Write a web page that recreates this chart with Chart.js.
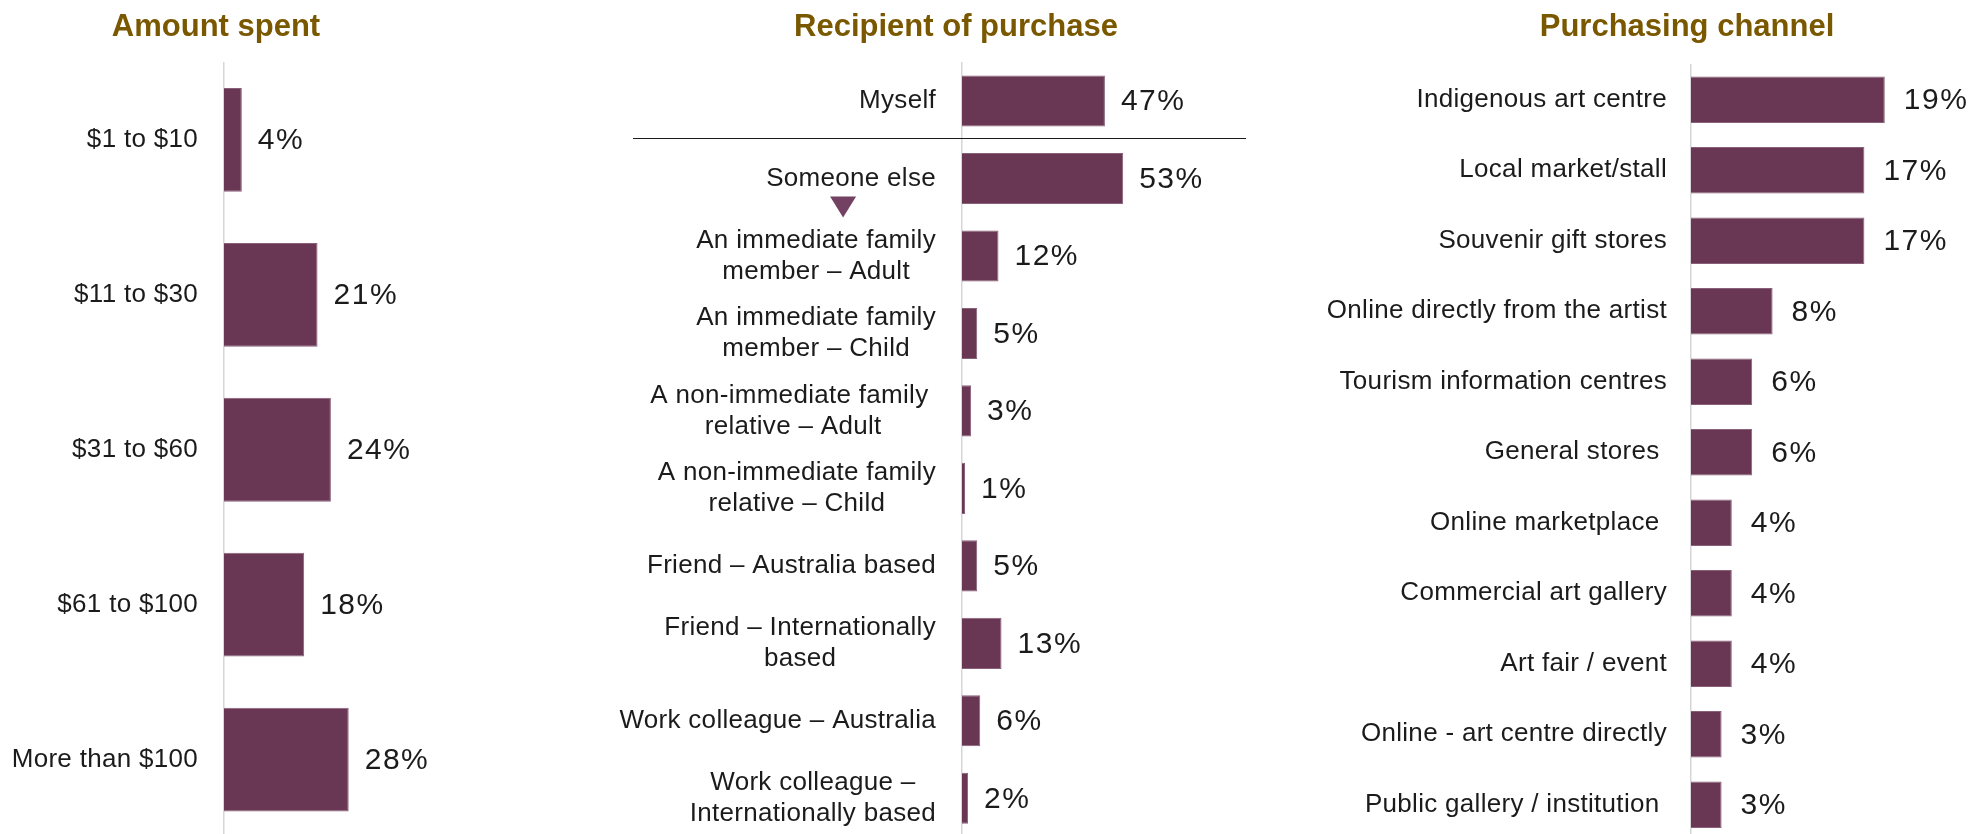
<!DOCTYPE html>
<html>
<head>
<meta charset="utf-8">
<script src="https://cdn.jsdelivr.net/npm/chart.js@4.4.1/dist/chart.umd.min.js"></script>
<style>
  html, body { margin: 0; padding: 0; background: #ffffff; overflow: hidden; width: 1973px; height: 834px; }
  .panel { position: absolute; top: 0; }
  canvas { display: block; }
</style>
</head>
<body>
<div class="panel" style="left:0px"><canvas id="amount" width="440" height="837"></canvas></div>
<div class="panel" style="left:600px"><canvas id="recipient" width="660" height="837"></canvas></div>
<div class="panel" style="left:1290px"><canvas id="channel" width="683" height="840"></canvas></div>
<script>
// ---- Amount spent ----
const amountCategories = ['$1 to $10', '$11 to $30', '$31 to $60', '$61 to $100', 'More than $100'];
const amountValues = [4, 21, 24, 18, 28];

// ---- Recipient of purchase ----
const recipientCategories = [
  'Myself',
  'Someone else',
  ['An immediate family', 'member – Adult'],
  ['An immediate family', 'member – Child'],
  ['A non-immediate family ', 'relative – Adult'],
  ['A non-immediate family', 'relative – Child'],
  'Friend – Australia based',
  ['Friend – Internationally', 'based'],
  'Work colleague – Australia',
  ['Work colleague –', 'Internationally based']
];
const recipientValues = [47, 53, 12, 5, 3, 1, 5, 13, 6, 2];

// ---- Purchasing channel ----
const channelCategories = [
  'Indigenous art centre',
  'Local market/stall',
  'Souvenir gift stores',
  'Online directly from the artist',
  'Tourism information centres',
  'General stores ',
  'Online marketplace ',
  'Commercial art gallery',
  'Art fair / event',
  'Online - art centre directly',
  'Public gallery / institution '
];
const channelValues = [19, 17, 17, 8, 6, 6, 4, 4, 4, 3, 3];

const panelHeadings = ['Amount spent', 'Recipient of purchase', 'Purchasing channel'];

const FONT = "'Liberation Sans', Arial, Helvetica, sans-serif";
const BAR = '#693653';
const BAR_EDGE = '#88607a';
const INK = '#1b1b1b';
const GOLD = '#7a5800';
const AXIS = '#d6d6d6';

// Heading, category labels (right-aligned block, lines centred within it) and value labels
const panelDecor = {
  id: 'panelDecor',
  afterDatasetsDraw(chart, args, opts) {
    const ctx = chart.ctx;
    const yScale = chart.scales.y;
    const axisX = yScale.right;
    ctx.save();

    ctx.font = `bold 31px ${FONT}`;
    ctx.fillStyle = GOLD;
    ctx.textAlign = 'center';
    ctx.textBaseline = 'alphabetic';
    ctx.fillText(opts.heading, axisX + opts.headingShift, 36);

    ctx.font = `26px ${FONT}`;
    ctx.fillStyle = INK;
    ctx.textBaseline = 'middle';
    ctx.letterSpacing = '0.3px';
    chart.data.labels.forEach((lab, i) => {
      const lines = Array.isArray(lab) ? lab : [lab];
      const w = Math.max(...lines.map(l => ctx.measureText(l).width));
      const cx = axisX - opts.labelPad - w / 2;
      const cy = yScale.getPixelForValue(i);
      lines.forEach((line, j) => {
        ctx.fillText(line, cx, cy + (j - (lines.length - 1) / 2) * 31);
      });
    });

    ctx.font = `30px ${FONT}`;
    ctx.letterSpacing = '1.5px';
    ctx.textAlign = 'left';
    const values = chart.data.datasets[0].data;
    chart.getDatasetMeta(0).data.forEach((bar, i) => {
      ctx.fillText(values[i] + '%', bar.x + opts.valueGap, bar.y + 1);
    });
    ctx.restore();

    if (opts.extra) opts.extra(chart, ctx);
  }
};

function buildPanel(id, categories, values, cfg) {
  return new Chart(document.getElementById(id), {
    type: 'bar',
    data: {
      labels: categories,
      datasets: [{
        data: values,
        backgroundColor: BAR,
        borderColor: BAR_EDGE,
        borderWidth: 1,
        borderSkipped: 'start',
        barPercentage: cfg.barPct,
        categoryPercentage: 1
      }]
    },
    options: {
      indexAxis: 'y',
      responsive: false,
      animation: false,
      devicePixelRatio: 1,
      layout: { padding: { top: cfg.top, bottom: 0, left: 0, right: 0 } },
      scales: {
        x: { display: false, min: 0, max: cfg.xMax },
        y: {
          afterFit(scale) { scale.width = cfg.axisWidth; },
          grid: { display: false },
          ticks: { display: false },
          border: { display: true, color: AXIS, width: 1.5 }
        }
      },
      plugins: {
        legend: { display: false },
        tooltip: { enabled: false },
        panelDecor: {
          heading: cfg.heading,
          headingShift: cfg.headingShift,
          labelPad: cfg.labelPad,
          valueGap: cfg.valueGap,
          extra: cfg.extra
        }
      }
    },
    plugins: [panelDecor]
  });
}

buildPanel('amount', amountCategories, amountValues, {
  heading: panelHeadings[0], headingShift: -8,
  axisWidth: 224, xMax: 48.5, top: 62.5, barPct: 0.67,
  labelPad: 26, valueGap: 16
});

buildPanel('recipient', recipientCategories, recipientValues, {
  heading: panelHeadings[1], headingShift: -6,
  axisWidth: 362, xMax: 98, top: 62.3, barPct: 0.66,
  labelPad: 26, valueGap: 16,
  extra(chart, ctx) {
    const yScale = chart.scales.y;
    const axisX = yScale.right;
    const y0 = yScale.getPixelForValue(0);
    const y1 = yScale.getPixelForValue(1);
    ctx.save();
    // rule separating "Myself" from the "Someone else" breakdown
    const sepY = Math.round((y0 + y1) / 2 - 2) + 0.5;
    ctx.strokeStyle = INK;
    ctx.lineWidth = 1.2;
    ctx.beginPath();
    ctx.moveTo(axisX - 329, sepY);
    ctx.lineTo(axisX + 284, sepY);
    ctx.stroke();
    // downward marker under "Someone else"
    ctx.font = `26px ${FONT}`;
    ctx.letterSpacing = '0.3px';
    const w = ctx.measureText(chart.data.labels[1]).width;
    const cx = axisX - 26 - w / 2 - 8;
    const top = y1 + 18, tip = y1 + 39;
    ctx.fillStyle = '#734263';
    ctx.beginPath();
    ctx.moveTo(cx - 13, top);
    ctx.lineTo(cx + 13, top);
    ctx.lineTo(cx, tip);
    ctx.closePath();
    ctx.fill();
    ctx.restore();
  }
});

buildPanel('channel', channelCategories, channelValues, {
  heading: panelHeadings[2], headingShift: -4,
  axisWidth: 401, xMax: 27.65, top: 64.5, barPct: 0.66,
  labelPad: 24, valueGap: 19
});
</script>
</body>
</html>
